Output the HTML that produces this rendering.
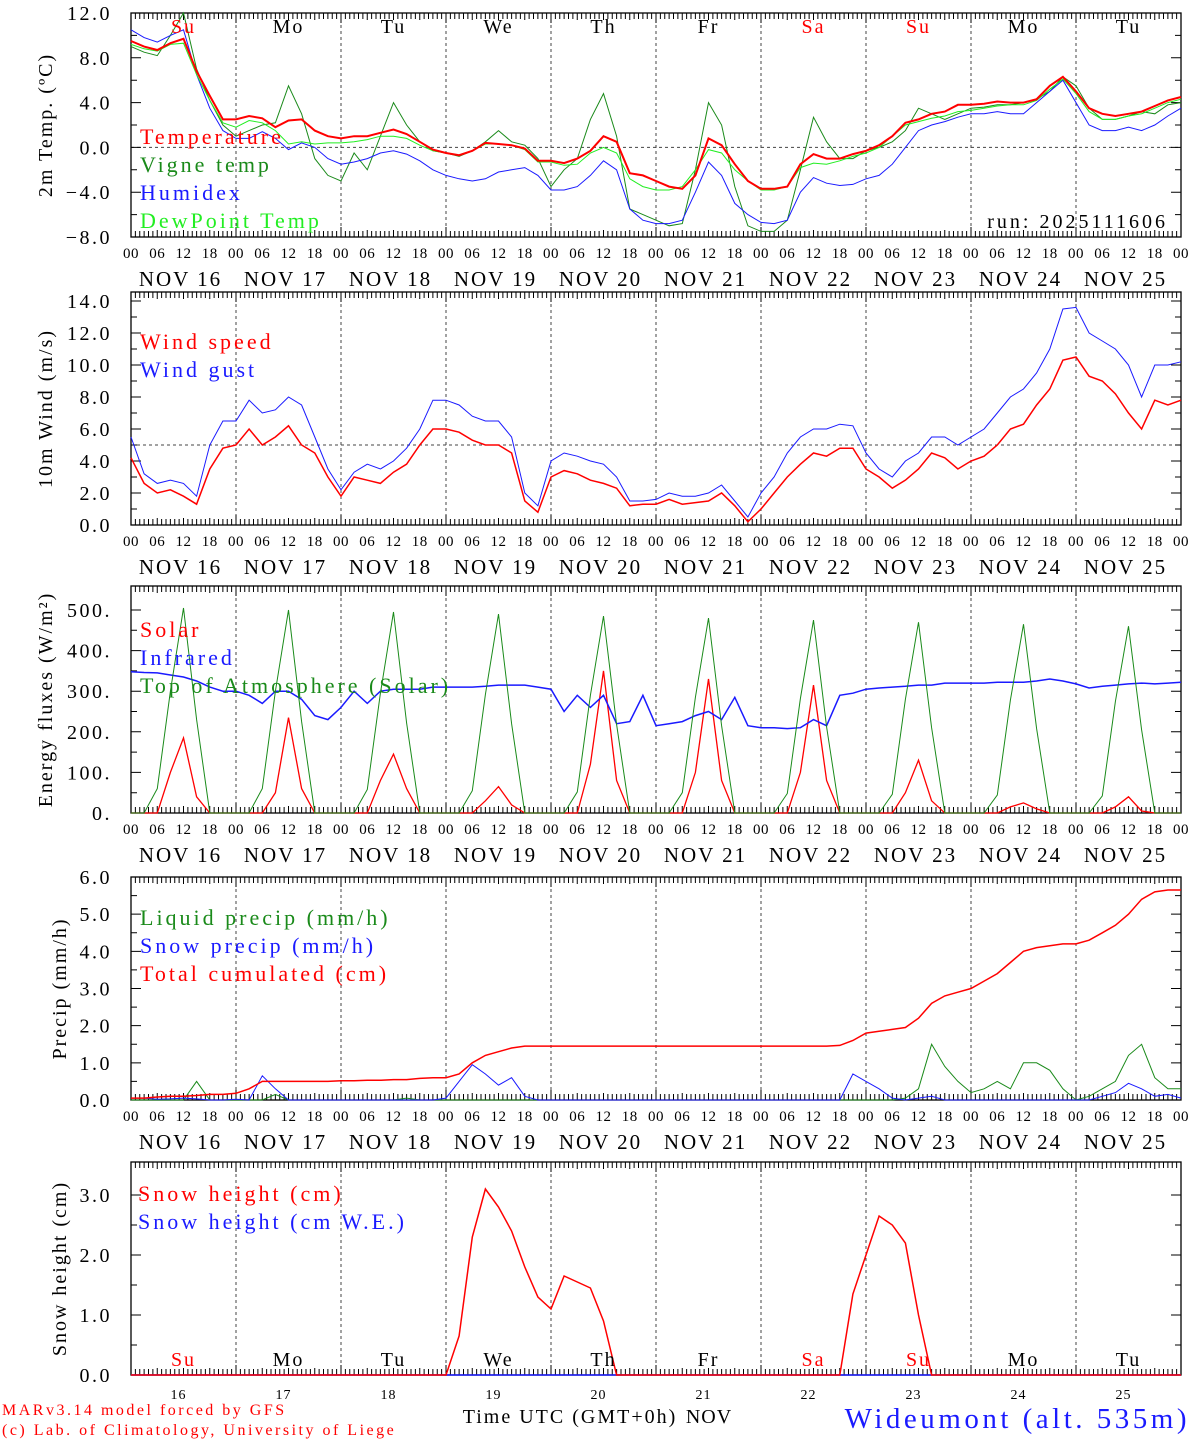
<!DOCTYPE html>
<html><head><meta charset="utf-8"><style>
html,body{margin:0;padding:0;background:#fff;}
svg{display:block;font-family:"Liberation Serif",serif;}
</style></head><body>
<svg id="chart" width="1194" height="1440" viewBox="0 0 1194 1440" xmlns="http://www.w3.org/2000/svg"></svg>
<script>
// ===== DATA (3-hourly, Nov 16 00h .. Nov 26 00h) =====
const dayLabels=["Su","Mo","Tu","We","Th","Fr","Sa","Su","Mo","Tu"];
const dayRed=[true,false,false,false,false,false,true,true,false,false];
const dayNums=["16","17","18","19","20","21","22","23","24","25"];
const hourTicks=["00","06","12","18"];
const temperature=[9.5,9.0,8.7,9.3,9.7,6.8,4.6,2.5, 2.5,2.8,2.6,1.8,2.4,2.5,1.5,1.0, 0.8,1.0,1.0,1.3,1.6,1.2,0.5,-0.2, -0.5,-0.7,-0.3,0.4,0.3,0.2,-0.1,-1.2, -1.2,-1.4,-1.0,-0.3,1.0,0.5,-2.3,-2.5, -3.0,-3.5,-3.7,-2.5,0.8,0.2,-1.5,-3.0, -3.7,-3.7,-3.5,-1.5,-0.6,-1.0,-1.0,-0.6, -0.3,0.2,1.0,2.2,2.5,3.0,3.2,3.8, 3.8,3.9,4.1,4.0,4.0,4.3,5.5,6.3, 5.0,3.5,3.0,2.8,3.0,3.2,3.7,4.2,4.5];
const vigneTemp=[9.0,8.5,8.2,10.0,12.0,7.0,4.2,2.0, 1.0,1.5,2.0,2.2,5.5,3.0,-1.0,-2.5, -3.0,-0.5,-2.0,1.0,4.0,2.0,0.5,-0.3, -0.5,-0.8,-0.3,0.5,1.5,0.5,0.2,-1.0, -3.5,-2.0,-1.0,2.5,4.8,1.0,-5.5,-6.0, -6.5,-7.0,-6.8,-2.0,4.0,2.0,-3.5,-7.0, -7.5,-7.5,-6.5,-2.0,2.7,0.5,-1.0,-1.0, -0.3,0.0,0.5,1.5,3.5,3.0,2.5,3.0, 3.5,3.6,3.8,3.8,4.0,4.3,5.0,6.3, 5.5,3.5,2.5,2.5,2.8,3.2,3.0,3.8,4.0];
const humidex=[10.5,9.8,9.4,10.0,10.5,6.5,3.5,1.5, 0.8,0.8,1.4,0.8,-0.2,0.4,0.0,-1.0, -1.5,-1.3,-1.0,-0.5,-0.3,-0.6,-1.2,-2.0, -2.5,-2.8,-3.0,-2.8,-2.2,-2.0,-1.8,-2.5, -3.8,-3.8,-3.5,-2.5,-1.2,-2.0,-5.5,-6.5, -6.8,-6.8,-6.5,-4.0,-1.3,-2.5,-5.0,-6.0, -6.7,-6.8,-6.5,-4.0,-2.7,-3.2,-3.4,-3.3, -2.8,-2.5,-1.5,0.0,1.5,2.0,2.3,2.7, 3.0,3.0,3.2,3.0,3.0,4.0,5.0,6.0, 4.0,2.0,1.5,1.5,1.8,1.5,2.0,2.8,3.5];
const dewPoint=[9.2,8.8,8.6,9.2,9.3,6.5,4.2,2.2, 1.8,2.4,2.2,1.5,0.3,0.5,0.3,0.4, 0.4,0.5,0.7,1.0,1.0,0.8,0.2,-0.3, -0.5,-0.7,-0.3,0.3,0.3,0.2,-0.2,-1.3, -1.3,-1.6,-1.5,-0.5,0.0,-0.5,-2.8,-3.5, -3.8,-3.8,-3.5,-2.0,-0.2,-0.5,-2.0,-3.0, -3.8,-3.8,-3.5,-1.8,-1.4,-1.5,-1.2,-0.8, -0.5,0.0,1.0,2.0,2.3,2.6,2.8,3.2, 3.3,3.5,3.7,3.8,3.8,4.2,5.2,6.1, 4.8,3.2,2.5,2.5,2.8,3.0,3.5,4.0,4.3];
const windSpeed=[4.2,2.6,2.0,2.2,1.8,1.3,3.5,4.8, 5.0,6.0,5.0,5.5,6.2,5.0,4.5,3.0, 1.8,3.0,2.8,2.6,3.3,3.8,5.0,6.0, 6.0,5.8,5.3,5.0,5.0,4.5,1.5,0.8, 3.0,3.4,3.2,2.8,2.6,2.3,1.2,1.3, 1.3,1.6,1.3,1.4,1.5,2.0,1.2,0.2, 1.0,2.0,3.0,3.8,4.5,4.3,4.8,4.8, 3.5,3.0,2.3,2.8,3.5,4.5,4.2,3.5, 4.0,4.3,5.0,6.0,6.3,7.5,8.5,10.3, 10.5,9.3,9.0,8.2,7.0,6.0,7.8,7.5,7.8];
const windGust=[5.5,3.2,2.6,2.8,2.6,1.8,5.0,6.5, 6.5,7.8,7.0,7.2,8.0,7.5,5.5,3.5, 2.2,3.3,3.8,3.5,4.0,4.8,6.0,7.8, 7.8,7.5,6.8,6.5,6.5,5.5,2.0,1.2, 4.0,4.5,4.3,4.0,3.8,3.0,1.5,1.5, 1.6,2.0,1.8,1.8,2.0,2.5,1.5,0.5, 2.0,3.0,4.5,5.5,6.0,6.0,6.3,6.2, 4.5,3.5,3.0,4.0,4.5,5.5,5.5,5.0, 5.5,6.0,7.0,8.0,8.5,9.5,11.0,13.5, 13.6,12.0,11.5,11.0,10.0,8.0,10.0,10.0,10.2];
const solar=[0,0,0,100,185,40,0,0, 0,0,0,50,235,60,0,0, 0,0,0,80,145,60,0,0, 0,0,0,30,65,20,0,0, 0,0,0,120,350,80,0,0, 0,0,0,100,330,80,0,0, 0,0,0,100,315,80,0,0, 0,0,0,50,130,30,0,0, 0,0,0,15,25,10,0,0, 0,0,0,15,40,5,0,0,0];
const infrared=[348,346,345,340,335,325,310,300, 300,290,270,300,300,280,240,230, 260,300,270,300,305,305,305,310, 310,310,310,312,315,315,315,310, 305,250,290,260,290,220,225,290, 215,220,225,240,250,230,285,215, 210,210,208,210,230,215,290,295, 305,308,310,312,315,315,320,320, 320,320,322,322,322,325,330,325, 318,308,312,315,318,320,318,320,322];
const toaSolar=[0,0,60,300,505,230,0,0, 0,0,60,300,500,225,0,0, 0,0,58,295,495,222,0,0, 0,0,55,292,490,220,0,0, 0,0,52,290,485,218,0,0, 0,0,50,285,480,215,0,0, 0,0,48,282,475,212,0,0, 0,0,46,280,470,210,0,0, 0,0,44,278,465,208,0,0, 0,0,42,275,460,205,0,0,0];
const liquidPrecip=[0,0,0,0,0,0.5,0,0, 0,0,0,0.15,0,0,0,0, 0,0,0,0,0,0.05,0,0, 0,0,0,0,0,0,0,0, 0,0,0,0,0,0,0,0, 0,0,0,0,0,0,0,0, 0,0,0,0,0,0,0,0, 0,0,0,0.05,0.3,1.5,0.9,0.5, 0.2,0.3,0.5,0.3,1.0,1.0,0.8,0.3, 0,0.1,0.3,0.5,1.2,1.5,0.6,0.3,0.3];
const snowPrecip=[0.05,0.05,0.02,0.03,0.05,0.03,0,0, 0.02,0,0.65,0.3,0,0,0,0, 0,0,0,0,0,0,0,0, 0.05,0.5,0.95,0.7,0.4,0.6,0.1,0, 0,0,0,0,0,0,0,0, 0,0,0,0,0,0,0,0, 0,0,0,0,0,0,0,0.7, 0.5,0.3,0.05,0,0.05,0.1,0,0, 0,0,0,0,0,0,0,0, 0,0,0.1,0.2,0.45,0.3,0.1,0.15,0.05];
const totalCum=[0.05,0.05,0.08,0.1,0.1,0.12,0.15,0.15, 0.18,0.3,0.5,0.5,0.5,0.5,0.5,0.5, 0.52,0.52,0.53,0.53,0.55,0.55,0.58,0.6, 0.6,0.7,1.0,1.2,1.3,1.4,1.45,1.45, 1.45,1.45,1.45,1.45,1.45,1.45,1.45,1.45, 1.45,1.45,1.45,1.45,1.45,1.45,1.45,1.45, 1.45,1.45,1.45,1.45,1.45,1.45,1.47,1.6, 1.8,1.85,1.9,1.95,2.2,2.6,2.8,2.9, 3.0,3.2,3.4,3.7,4.0,4.1,4.15,4.2, 4.2,4.3,4.5,4.7,5.0,5.4,5.6,5.65,5.65];
const snowHeight=[0,0,0,0,0,0,0,0, 0,0,0,0,0,0,0,0, 0,0,0,0,0,0,0,0, 0,0.65,2.3,3.1,2.8,2.4,1.8,1.3, 1.1,1.65,1.55,1.45,0.9,0,0,0, 0,0,0,0,0,0,0,0, 0,0,0,0,0,0,0,1.35, 2.0,2.65,2.5,2.2,1.0,0,0,0, 0,0,0,0,0,0,0,0, 0,0,0,0,0,0,0,0,0];
const snowHeightWE=new Array(81).fill(0);

// ===== DRAWING =====
const svg=document.getElementById('chart');
const NS="http://www.w3.org/2000/svg";
const X0=131,X1=1181,DAYW=(X1-X0)/10;
function xi(i){return X0+i*(X1-X0)/80;}
function mk(tag,attrs,parent){const e=document.createElementNS(NS,tag);for(const k in attrs)e.setAttribute(k,attrs[k]);(parent||svg).appendChild(e);return e;}
function txt(x,y,s,size,fill,anchor,name,ls){const t=mk('text',{x:x,y:y,'font-size':size,fill:fill||'#000','text-anchor':anchor||'start','letter-spacing':ls||0});t.textContent=s;


return t;}

function panel(p){
  const g=mk('g',{});
  
  
  const ys=v=>p.yb-(v-p.vmin)*(p.yb-p.ya)/(p.vmax-p.vmin);
  for(let d=1;d<10;d++){const l=mk('line',{x1:X0+d*DAYW,x2:X0+d*DAYW,y1:p.top,y2:p.yb,stroke:'#444','stroke-dasharray':'3,3','stroke-width':1},g);
    
    }
  if(p.hline!==undefined){const l=mk('line',{x1:X0,x2:X1,y1:ys(p.hline),y2:ys(p.hline),stroke:'#444','stroke-dasharray':'3,3'},g);
    
    }
  let dpath='';
  for(let h=0;h<=240;h++){const x=X0+h*DAYW/24;const len=h%24==0?10:(h%6==0?7:6);
    dpath+=`M${x},${p.top}v${len}M${x},${p.yb}v${-len}`;}
  for(let k=0;k<p.ticks.length;k++){const y=ys(p.ticks[k]);dpath+=`M${X0},${y}h10M${X1},${y}h-10`;
    txt(112,y+7,p.tickLabels[k],20,'#000','end','y-tick-label',2.5);}
  for(const v of p.minor){const y=ys(v);dpath+=`M${X0},${y}h6M${X1},${y}h-6`;}
  const tk=mk('path',{d:dpath,stroke:'#000','stroke-width':1,fill:'none'},g);
  
  
  const bx=mk('rect',{x:X0,y:p.top,width:X1-X0,height:p.yb-p.top,fill:'none',stroke:'#000','stroke-width':1.3},g);
  
  
  for(const s of p.series){
    const pts=s.data.map((v,i)=>xi(i).toFixed(1)+','+ys(v).toFixed(1)).join(' ');
    const pl=mk('polyline',{points:pts,fill:'none',stroke:s.color,'stroke-width':s.w||1.2},g);
    
    
  }
  p.series.forEach((s,k)=>{if(s.label)txt(p.legX||140,p.legY+k*28,s.label,22,s.color,'start','legend-entry',3);});
  const tt=txt(0,0,p.title,20,'#000','middle','y-axis-title',2);
  tt.setAttribute('transform',`translate(${p.titleX},${(p.top+p.yb)/2}) rotate(-90)`);
  if(p.hours){
    for(let d=0;d<10;d++){for(let k=0;k<4;k++){txt(X0+d*DAYW+k*DAYW/4,p.yb+21,hourTicks[k],15,'#000','middle','hour-tick-label',0.5);}
      txt(X0+d*DAYW+DAYW/2-3,p.yb+49,'NOV '+dayNums[d],21,'#000','middle','date-label',2);}
    txt(X1,p.yb+21,'00',15,'#000','middle','hour-tick-label',0.5);
  }
  return ys;
}

panel({name:'temperature-panel',top:13,yb:237,ya:13,vmin:-8,vmax:12,ticks:[12,8,4,0,-4,-8],tickLabels:['12.0','8.0','4.0','0.0','−4.0','−8.0'],minor:[10,6,2,-2,-6],hline:0,
  series:[{name:'vigne-temp-line',data:vigneTemp,color:'#1a8a1a',label:'Vigne temp',w:1},{name:'humidex-line',data:humidex,color:'#1a1aff',label:'Humidex',w:1},{name:'dewpoint-line',data:dewPoint,color:'#22ee22',label:'DewPoint Temp',w:1},{name:'temperature-line',data:temperature,color:'#ff0000',label:null,w:2}],
  legY:172,title:'2m Temp. (ºC)',titleX:52,hours:true});
txt(140,144,'Temperature',22,'#ff0000','start','legend-entry',3);
txt(1168,228,'run: 2025111606',20,'#000','end','run-label',3);
for(let d=0;d<10;d++)txt(X0+d*DAYW+DAYW/2,33,dayLabels[d],20,dayRed[d]?'#ff0000':'#000','middle','weekday-label',2);

panel({name:'wind-panel',top:292,yb:525,ya:301,vmin:0,vmax:14,ticks:[14,12,10,8,6,4,2,0],tickLabels:['14.0','12.0','10.0','8.0','6.0','4.0','2.0','0.0'],minor:[13,11,9,7,5,3,1],hline:5,
  series:[{name:'wind-speed-line',data:windSpeed,color:'#ff0000',label:'Wind speed',w:1.5},{name:'wind-gust-line',data:windGust,color:'#1a1aff',label:'Wind gust',w:1}],
  legY:349,title:'10m Wind (m/s)',titleX:52,hours:true});

panel({name:'energy-panel',top:586,yb:813,ya:610,vmin:0,vmax:500,ticks:[500,400,300,200,100,0],tickLabels:['500.','400.','300.','200.','100.','0.'],minor:[450,350,250,150,50],
  series:[{name:'solar-line',data:solar,color:'#ff0000',label:'Solar',w:1.3},{name:'infrared-line',data:infrared,color:'#1a1aff',label:'Infrared',w:1.5},{name:'toa-solar-line',data:toaSolar,color:'#1a8a1a',label:'Top of Atmosphere (Solar)',w:1}],
  legY:637,title:'Energy fluxes (W/m²)',titleX:52,hours:true});

panel({name:'precip-panel',top:877,yb:1100,ya:877,vmin:0,vmax:6,ticks:[6,5,4,3,2,1,0],tickLabels:['6.0','5.0','4.0','3.0','2.0','1.0','0.0'],minor:[5.5,4.5,3.5,2.5,1.5,0.5],
  series:[{name:'liquid-precip-line',data:liquidPrecip,color:'#1a8a1a',label:'Liquid precip (mm/h)',w:1},{name:'snow-precip-line',data:snowPrecip,color:'#1a1aff',label:'Snow precip (mm/h)',w:1},{name:'total-cumulated-line',data:totalCum,color:'#ff0000',label:'Total cumulated (cm)',w:1.5}],
  legY:925,title:'Precip (mm/h)',titleX:66,hours:true});

panel({name:'snow-panel',top:1162,yb:1375,ya:1195,vmin:0,vmax:3,ticks:[3,2,1,0],tickLabels:['3.0','2.0','1.0','0.0'],minor:[2.5,1.5,0.5],
  series:[{name:'snow-height-we-line',data:snowHeightWE,color:'#1a1aff',label:null,w:1.5},{name:'snow-height-line',data:snowHeight,color:'#ff0000',label:null,w:1.5}],
  legY:1200,title:'Snow height (cm)',titleX:66,hours:false});
txt(138,1201,'Snow height (cm)',22,'#ff0000','start','legend-entry',3);
txt(138,1229,'Snow height (cm W.E.)',22,'#1a1aff','start','legend-entry',3);
for(let d=0;d<10;d++){txt(X0+d*DAYW+DAYW/2,1366,dayLabels[d],20,dayRed[d]?'#ff0000':'#000','middle','weekday-label',2);
  txt(X0+d*DAYW+DAYW/2-5,1399,dayNums[d],14,'#000','middle','day-number-label',1);}
txt(570,1423,'Time UTC (GMT+0h)',20,'#000','middle','x-axis-title',2);
txt(709,1423,'NOV',20,'#000','middle','month-label',1);
txt(2,1415,'MARv3.14 model forced by GFS',16,'#ff0000','start','model-credit',2.5);
txt(2,1435,'(c) Lab. of Climatology, University of Liege',16,'#ff0000','start','lab-credit',2.5);
txt(1190,1428,'Wideumont (alt. 535m)',29,'#1a1aff','end','station-title',3.5);
</script>
</body></html>
